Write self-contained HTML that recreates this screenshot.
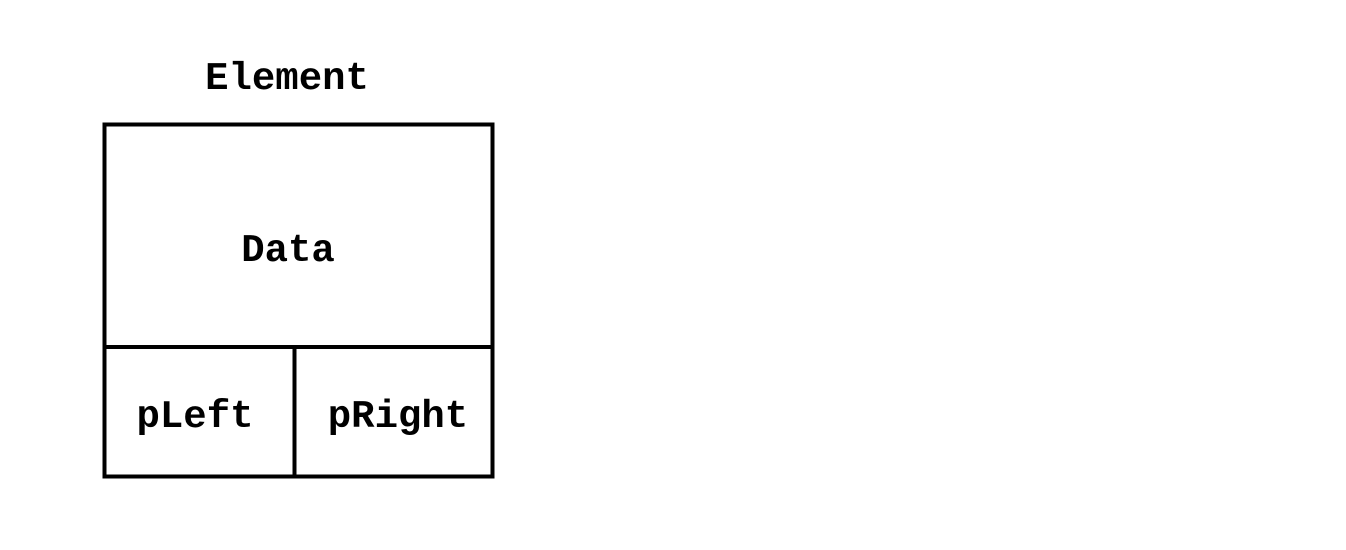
<!DOCTYPE html>
<html>
<head>
<meta charset="utf-8">
<style>
  html,body{margin:0;padding:0;background:#fff;}
  svg{display:block;}
  text{font-family:"Liberation Mono",monospace;font-weight:bold;font-size:39px;fill:#000;}
</style>
</head>
<body>
<svg width="1346" height="550" viewBox="0 0 1346 550">
  <text x="287" y="89" text-anchor="middle">Element</text>
  <rect x="104.5" y="124.5" width="388" height="352" fill="none" stroke="#000" stroke-width="4"/>
  <line x1="104" y1="347" x2="492" y2="347" stroke="#000" stroke-width="4"/>
  <line x1="294.5" y1="347" x2="294.5" y2="476" stroke="#000" stroke-width="4"/>
  <text x="288" y="261" text-anchor="middle">Data</text>
  <text x="195" y="427" text-anchor="middle">pLeft</text>
  <text x="398" y="427" text-anchor="middle">pRight</text>
</svg>
</body>
</html>
